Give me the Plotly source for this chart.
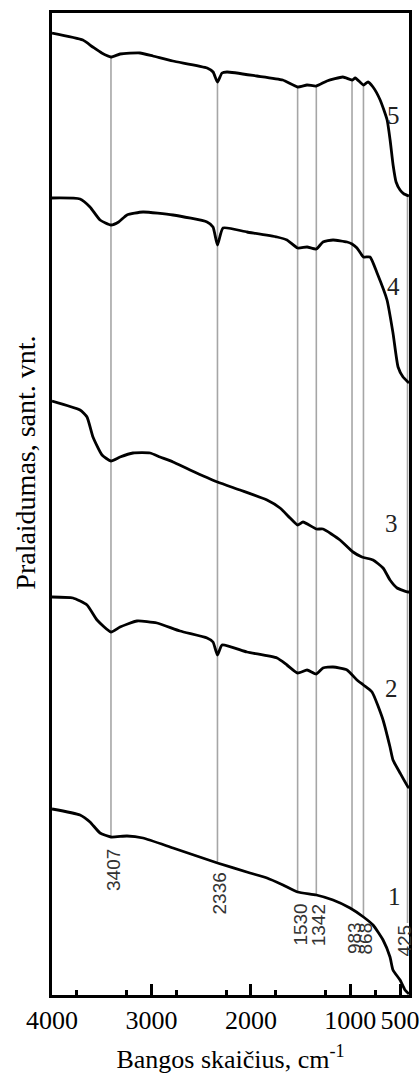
import numpy as np
import plotly.graph_objects as go

# IR transmittance spectra, samples 1-5 (wavenumber in cm-1, transmittance in arbitrary units)
wn5 = [4000, 3690, 3590, 3500, 3407, 3315, 3115, 2985, 2785, 2440, 2380, 2336, 2290, 2240, 1940,
       1680, 1530, 1435, 1342, 1235, 1075, 983, 950, 868, 822, 772, 700, 630, 600, 570, 540, 500, 460, 410]
T5 = [962, 955, 948, 942, 938, 941, 942, 939, 934, 927, 923, 913, 922, 923, 919,
      915, 908, 910, 909, 914, 918, 915, 917, 910, 913, 908, 895, 875, 855, 830, 813, 805, 801, 799]

wn4 = [4000, 3718, 3618, 3517, 3407, 3330, 3246, 3085, 2783, 2441, 2381, 2336, 2280, 2039, 1737,
       1637, 1530, 1435, 1342, 1275, 1174, 1033, 983, 933, 868, 802, 731, 631, 571, 520, 470, 420, 410]
T4 = [797, 796, 788, 775, 770, 773, 780, 783, 780, 773, 768, 750, 767, 763, 758,
      755, 747, 748, 746, 753, 755, 753, 751, 747, 738, 738, 722, 695, 662, 628, 618, 613, 612]

wn3 = [4000, 3718, 3648, 3588, 3497, 3407, 3316, 3185, 3014, 2914, 2783, 2612, 2336, 2109, 1838,
       1707, 1606, 1530, 1476, 1342, 1275, 1104, 973, 883, 772, 671, 601, 530, 420, 410]
T3 = [594, 585, 578, 558, 540, 534, 538, 542, 542, 538, 533, 525, 513, 505, 495,
      487, 477, 470, 473, 466, 466, 455, 443, 438, 435, 427, 415, 407, 403, 403]

wn2 = [4000, 3789, 3648, 3547, 3407, 3316, 3145, 2944, 2713, 2441, 2381, 2336, 2290, 2039, 1737,
       1637, 1530, 1435, 1342, 1275, 1174, 1033, 933, 868, 782, 671, 601, 571, 500, 420, 410]
T2 = [398, 397, 390, 375, 363, 368, 374, 372, 364, 357, 353, 340, 350, 343, 337,
      330, 322, 325, 321, 327, 328, 325, 315, 310, 303, 275, 248, 235, 222, 208, 207]

wn1 = [4000, 3718, 3618, 3517, 3407, 3246, 3085, 2783, 2336, 2009, 1838, 1677, 1530, 1342, 1174,
       1003, 868, 772, 671, 601, 571, 500, 450, 420, 410]
T1 = [186, 180, 173, 162, 158, 159, 157, 147, 132, 122, 117, 110, 103, 100, 95,
      87, 78, 70, 55, 38, 25, 15, 5, 2, 1]

curve_names = ["1", "2", "3", "4", "5"]
curve_label_wn = [560, 590, 590, 570, 570]
curve_label_T = [99, 307, 472, 709, 880]

# marked absorption bands
bands = [3407, 2336, 1530, 1342, 983, 868, 425]
band_text = ["3407", "2336", "1530", "1342", "983", "868", "425"]
band_label_T = [148, 125, 93, 93, 75, 75, 72]

# axis ticks
labelled_ticks = [4000, 3000, 2000, 1000, 500]
labelled_text = ["4000", "3000", "2000", "1000", "500"]
unlabelled_ticks = [3500, 2500, 1500]
minor_ticks = [3750, 3250, 2750, 2250, 1750, 1250, 750]

serif = "Liberation Serif, Times New Roman, serif"
sans = "Liberation Sans, Arial, sans-serif"
x_range = [4000, 410]

spectra = [(wn1, T1), (wn2, T2), (wn3, T3), (wn4, T4), (wn5, T5)]

fig = go.Figure()

# reference lines for the bands: from the top spectrum down to the bottom one (or its label)
top_w, top_t = np.array(wn5[::-1]), np.array(T5[::-1])
bot_w, bot_t = np.array(wn1[::-1]), np.array(T1[::-1])
for b, lab_t in zip(bands, band_label_T):
    y_top = float(np.interp(b, top_w, top_t))
    y_bot = max(float(np.interp(b, bot_w, bot_t)), lab_t)
    fig.add_trace(go.Scatter(x=[b, b], y=[y_top, y_bot], mode="lines",
                             line=dict(color="#a6a6a6", width=1.6),
                             hoverinfo="skip", showlegend=False))

for name, (w, t) in zip(curve_names, spectra):
    fig.add_trace(go.Scatter(x=w, y=t, mode="lines", name=name,
                             line=dict(color="black", width=2.8, shape="spline", smoothing=0.5),
                             showlegend=False))

for name, xw, yt in zip(curve_names, curve_label_wn, curve_label_T):
    fig.add_annotation(x=xw, y=yt, text=name, showarrow=False,
                       font=dict(family=serif, size=25, color="#222222"),
                       xanchor="center", yanchor="middle")

for b, txt, lab_t in zip(bands, band_text, band_label_T):
    fig.add_annotation(x=b, y=lab_t, text=txt, showarrow=False, textangle=-90,
                       font=dict(family=sans, size=19, color="#333333"),
                       xanchor="center", yanchor="top",
                       xshift=-4 if b < 500 else 2)

# vertical axis title
fig.add_annotation(xref="paper", yref="paper", x=-0.073, y=0.542,
                   text="Pralaidumas, sant. vnt.", showarrow=False, textangle=-90,
                   font=dict(family=serif, size=28, color="black"),
                   xanchor="center", yanchor="middle")

fig.update_layout(
    xaxis=dict(range=x_range, autorange=False,
               tickmode="array", tickvals=labelled_ticks, ticktext=labelled_text,
               ticks="inside", ticklen=11, tickwidth=3, tickcolor="black",
               minor=dict(tickmode="array", tickvals=minor_ticks, ticks="inside",
                          ticklen=5, tickwidth=3, tickcolor="black"),
               showline=True, linewidth=3, linecolor="black", mirror=True,
               showgrid=False, zeroline=False, ticklabeloverflow="allow",
               tickfont=dict(family=serif, size=26, color="black"),
               title=dict(text="Bangos skaičius, cm<sup>-1</sup>",
                          font=dict(family=serif, size=26, color="black"), standoff=16)),
    # long unlabelled ticks at the half-thousands
    xaxis2=dict(range=x_range, autorange=False, overlaying="x", side="bottom", anchor="y",
                tickmode="array", tickvals=unlabelled_ticks, showticklabels=False,
                ticks="inside", ticklen=11, tickwidth=3, tickcolor="black",
                showline=False, showgrid=False, zeroline=False),
    yaxis=dict(range=[0, 982], autorange=False, showticklabels=False, ticks="",
               showline=True, linewidth=3, linecolor="black", mirror=True,
               showgrid=False, zeroline=False),
    width=419, height=1077,
    margin=dict(l=52, r=10, t=13, b=82, autoexpand=False),
    paper_bgcolor="white", plot_bgcolor="white",
)

fig.write_html("out.html")
